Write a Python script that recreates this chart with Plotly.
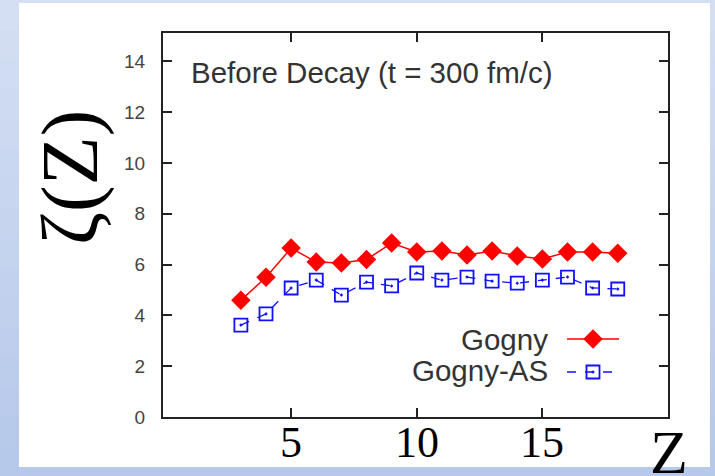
import plotly.graph_objects as go

# ---- data ----
Z = [3, 4, 5, 6, 7, 8, 9, 10, 11, 12, 13, 14, 15, 16, 17, 18]
gogny = [4.6, 5.5, 6.65, 6.1, 6.06, 6.2, 6.85, 6.5, 6.54, 6.38, 6.54, 6.34, 6.22, 6.5, 6.5, 6.45]
gogny_as = [3.62, 4.06, 5.08, 5.39, 4.8, 5.31, 5.16, 5.67, 5.39, 5.51, 5.35, 5.27, 5.39, 5.51, 5.08, 5.04]
x_ticks = [5, 10, 15]
y_ticks = [0, 2, 4, 6, 8, 10, 12, 14]
series_names = ["Gogny", "Gogny-AS"]

W, H = 715, 476
L, R, T, B = 163, 47, 33, 59
PW, PH = W - L - R, H - T - B

def px_x(p):
    return (p - L) / PW

def px_y(p):
    return (H - B - p) / PH

RED = "#ff0000"
BLUE = "#1010ff"
RED_MARK = dict(symbol="diamond", size=15, color=RED)
BLUE_MARK = dict(symbol="square-open-dot", size=13, color=BLUE, line=dict(width=1.8))

fig = go.Figure()
fig.add_trace(go.Scatter(
    x=Z, y=gogny, mode="lines+markers", name=series_names[0],
    line=dict(color=RED, width=1.5), marker=RED_MARK, showlegend=False))
fig.add_trace(go.Scatter(
    x=Z, y=gogny_as, mode="lines+markers", name=series_names[1],
    line=dict(color=BLUE, width=1.3, dash="dash"), marker=BLUE_MARK, showlegend=False))

# legend samples (on an overlay axis in [0,1])
leg_x = [px_x(567), px_x(593), px_x(619)]
fig.add_trace(go.Scatter(
    x=leg_x, y=[px_y(339)] * 3, xaxis="x2", yaxis="y2", mode="lines",
    line=dict(color=RED, width=1.5), showlegend=False, hoverinfo="skip"))
fig.add_trace(go.Scatter(
    x=[leg_x[1]], y=[px_y(339)], xaxis="x2", yaxis="y2", mode="markers",
    marker=RED_MARK, showlegend=False, hoverinfo="skip"))
fig.add_trace(go.Scatter(
    x=leg_x, y=[px_y(372)] * 3, xaxis="x2", yaxis="y2", mode="lines",
    line=dict(color=BLUE, width=1.3, dash="dash"), showlegend=False, hoverinfo="skip"))
fig.add_trace(go.Scatter(
    x=[leg_x[1]], y=[px_y(372)], xaxis="x2", yaxis="y2", mode="markers",
    marker=BLUE_MARK, showlegend=False, hoverinfo="skip"))

shapes = []
# gradient background bands
top_c = (0xd4, 0xdf, 0xf3)
bot_c = (0xb6, 0xc9, 0xea)
n = 16
for i in range(n):
    f = i / (n - 1)
    c = tuple(int(top_c[k] + (bot_c[k] - top_c[k]) * f) for k in range(3))
    y0p = H * i / n
    y1p = H * (i + 1) / n + 1
    shapes.append(dict(type="rect", xref="paper", yref="paper",
                       x0=px_x(-5), x1=px_x(W + 5), y0=px_y(y1p), y1=px_y(y0p),
                       fillcolor="rgb(%d,%d,%d)" % c, line=dict(width=0), layer="below"))
# white panel
shapes.append(dict(type="rect", xref="paper", yref="paper",
                   x0=px_x(19), x1=px_x(710), y0=px_y(467), y1=px_y(3),
                   fillcolor="white", line=dict(width=0), layer="below"))

TXT = dict(family="Liberation Sans", size=29.5, color="#333333")
annotations = [
    dict(text="Before Decay (t = 300 fm/c)", xref="paper", yref="paper",
         x=px_x(189), y=px_y(72), xanchor="left", yanchor="middle", showarrow=False,
         font=TXT),
    dict(text=series_names[0], xref="paper", yref="paper",
         x=px_x(550), y=px_y(339), xanchor="right", yanchor="middle", showarrow=False,
         font=TXT),
    dict(text=series_names[1], xref="paper", yref="paper",
         x=px_x(550), y=px_y(370), xanchor="right", yanchor="middle", showarrow=False,
         font=TXT),
    dict(text="ζ(Z)", xref="paper", yref="paper", textangle=-90,
         x=px_x(70), y=px_y(178), xanchor="center", yanchor="middle", showarrow=False,
         font=dict(family="Liberation Serif", size=80, color="black")),
    dict(text="Z", xref="paper", yref="paper",
         x=px_x(669), y=px_y(452), xanchor="center", yanchor="middle", showarrow=False,
         font=dict(family="Liberation Serif", size=62, color="black")),
]
# x tick labels placed through the x scale
for v in x_ticks:
    annotations.append(dict(text=str(v), xref="x", yref="paper", x=v, y=px_y(442),
                            xanchor="center", yanchor="middle", showarrow=False,
                            font=dict(family="Liberation Serif", size=44, color="black")))

fig.update_layout(
    width=W, height=H,
    margin=dict(l=L, r=R, t=T, b=B, autoexpand=False),
    paper_bgcolor="#c5d4ee",
    plot_bgcolor="rgba(0,0,0,0)",
    shapes=shapes,
    annotations=annotations,
    xaxis=dict(range=[-0.1, 20.0], tickvals=x_ticks, showticklabels=False,
               ticks="inside", ticklen=9, tickwidth=2, tickcolor="#222",
               showline=True, linecolor="#222", linewidth=2, mirror="ticks",
               showgrid=False, zeroline=False, automargin=False),
    yaxis=dict(range=[0, 15.12], tickvals=y_ticks, ticktext=[str(v) for v in y_ticks],
               ticks="inside", ticklen=9, tickwidth=2, tickcolor="#222",
               showline=True, linecolor="#222", linewidth=2, mirror="ticks",
               showgrid=False, zeroline=False, ticklabelstandoff=12, automargin=False,
               tickfont=dict(family="Liberation Sans", size=19, color="#444444")),
    xaxis2=dict(range=[0, 1], overlaying="x", visible=False, fixedrange=True),
    yaxis2=dict(range=[0, 1], overlaying="y", visible=False, fixedrange=True),
    showlegend=False,
)

fig.write_html("out.html")
